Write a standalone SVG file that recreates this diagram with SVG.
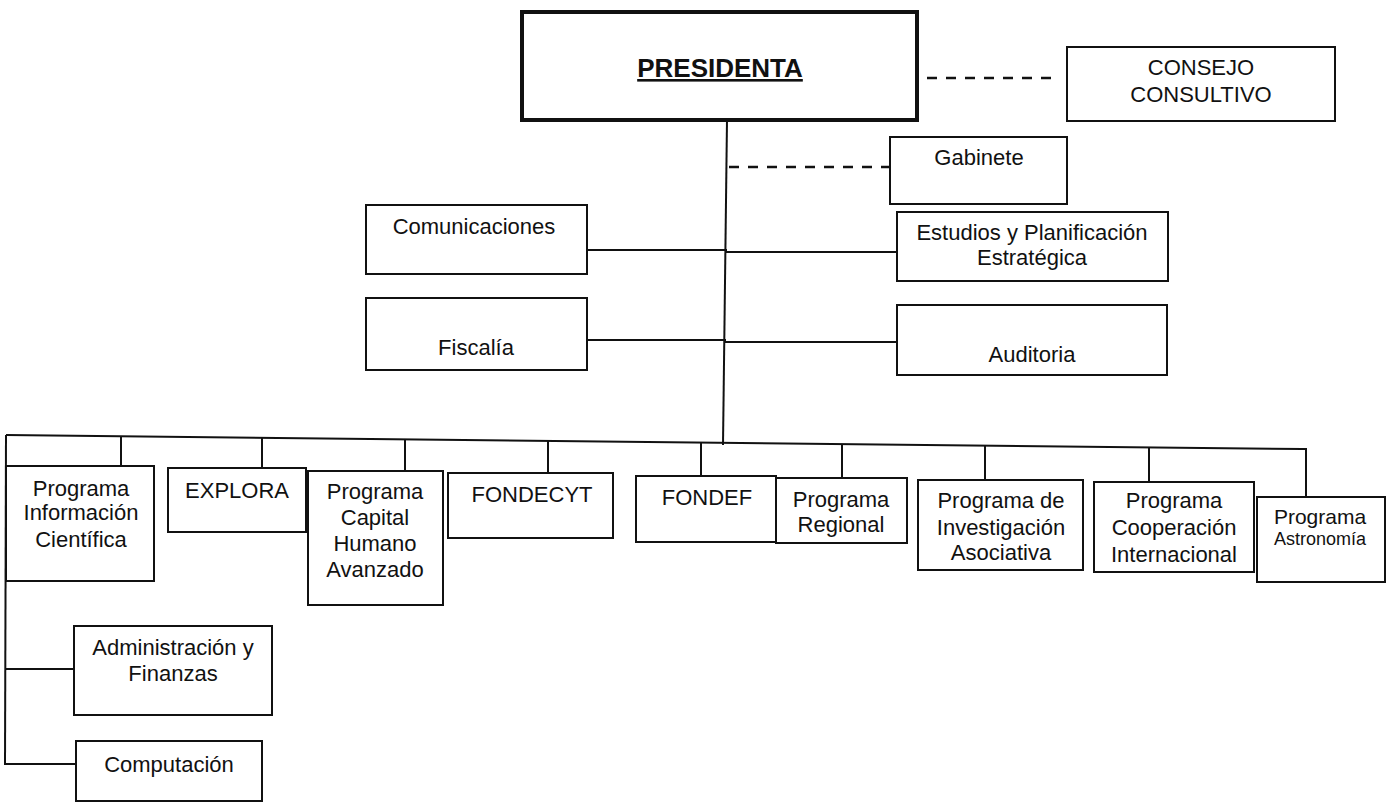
<svg xmlns="http://www.w3.org/2000/svg" width="1390" height="804" viewBox="0 0 1390 804">
<style>
.box{fill:#fff;stroke:#111;stroke-width:2}
.thick{fill:#fff;stroke:#111;stroke-width:4}
.t{font-family:"Liberation Sans",Arial,sans-serif;font-size:22px;fill:#111;text-anchor:middle}
.conn{fill:none;stroke:#111;stroke-width:2}
.dash{fill:none;stroke:#111;stroke-width:2.5;stroke-dasharray:10 9}
</style>
<rect width="1390" height="804" fill="#fff"/>
<g id="connectors">
<line class="conn" x1="727" y1="120" x2="723" y2="445"/>
<line class="dash" x1="927" y1="78" x2="1052" y2="78"/>
<line class="dash" x1="729" y1="167" x2="890" y2="167"/>
<line class="conn" x1="587" y1="250" x2="727" y2="250"/>
<line class="conn" x1="726" y1="252" x2="897" y2="252"/>
<line class="conn" x1="587" y1="340" x2="726" y2="340"/>
<line class="conn" x1="725" y1="342" x2="897" y2="342"/>
<polyline class="conn" points="6,435 1303,449 1306,449 1306,497"/>
<line class="conn" x1="6" y1="435" x2="5" y2="765"/>
<line class="conn" x1="5" y1="669" x2="74" y2="669"/>
<line class="conn" x1="5" y1="764" x2="76" y2="764"/>
<line class="conn" x1="121" y1="436" x2="121" y2="466"/>
<line class="conn" x1="262" y1="438" x2="262" y2="468"/>
<line class="conn" x1="405" y1="439" x2="405" y2="471"/>
<line class="conn" x1="548" y1="441" x2="548" y2="473"/>
<line class="conn" x1="701" y1="442" x2="701" y2="476"/>
<line class="conn" x1="842" y1="444" x2="842" y2="478"/>
<line class="conn" x1="985" y1="446" x2="985" y2="480"/>
<line class="conn" x1="1149" y1="447" x2="1149" y2="482"/>
</g>
<g id="presidenta">
<rect class="thick" x="522" y="12" width="395" height="108"/>
<text class="t" x="720" y="77" style="font-size:26px;font-weight:bold;text-decoration:underline">PRESIDENTA</text>
</g>
<g id="consejo">
<rect class="box" x="1067" y="47" width="268" height="74"/>
<text class="t" x="1201" y="75">CONSEJO</text>
<text class="t" x="1201" y="102">CONSULTIVO</text>
</g>
<g id="gabinete">
<rect class="box" x="890" y="137" width="177" height="67"/>
<text class="t" x="979" y="165">Gabinete</text>
</g>
<g id="comunicaciones">
<rect class="box" x="366" y="205" width="221" height="69"/>
<text class="t" x="474" y="234">Comunicaciones</text>
</g>
<g id="estudios">
<rect class="box" x="897" y="212" width="271" height="69"/>
<text class="t" x="1032" y="240">Estudios y Planificación</text>
<text class="t" x="1032" y="265">Estratégica</text>
</g>
<g id="fiscalia">
<rect class="box" x="366" y="298" width="221" height="72"/>
<text class="t" x="476" y="355">Fiscalía</text>
</g>
<g id="auditoria">
<rect class="box" x="897" y="305" width="270" height="70"/>
<text class="t" x="1032" y="362">Auditoria</text>
</g>
<g id="informacion-cientifica">
<rect class="box" x="6" y="466" width="148" height="115"/>
<text class="t" x="81" y="496">Programa</text>
<text class="t" x="81" y="520">Información</text>
<text class="t" x="81" y="547">Científica</text>
</g>
<g id="explora">
<rect class="box" x="168" y="468" width="138" height="64"/>
<text class="t" x="237" y="498">EXPLORA</text>
</g>
<g id="capital-humano">
<rect class="box" x="308" y="471" width="135" height="134"/>
<text class="t" x="375" y="499">Programa</text>
<text class="t" x="375" y="525">Capital</text>
<text class="t" x="375" y="551">Humano</text>
<text class="t" x="375" y="577">Avanzado</text>
</g>
<g id="fondecyt">
<rect class="box" x="448" y="473" width="165" height="65"/>
<text class="t" x="532" y="502">FONDECYT</text>
</g>
<g id="fondef">
<rect class="box" x="636" y="476" width="140" height="66"/>
<text class="t" x="707" y="505">FONDEF</text>
</g>
<g id="regional">
<rect class="box" x="776" y="478" width="131" height="65"/>
<text class="t" x="841" y="507">Programa</text>
<text class="t" x="841" y="532">Regional</text>
</g>
<g id="investigacion-asociativa">
<rect class="box" x="918" y="480" width="165" height="90"/>
<text class="t" x="1001" y="508">Programa de</text>
<text class="t" x="1001" y="535">Investigación</text>
<text class="t" x="1001" y="560">Asociativa</text>
</g>
<g id="cooperacion-internacional">
<rect class="box" x="1094" y="482" width="160" height="90"/>
<text class="t" x="1174" y="508">Programa</text>
<text class="t" x="1174" y="535">Cooperación</text>
<text class="t" x="1174" y="562">Internacional</text>
</g>
<g id="astronomia">
<rect class="box" x="1257" y="497" width="128" height="85"/>
<text class="t" x="1320" y="524" style="font-size:21px">Programa</text>
<text class="t" x="1320" y="545" style="font-size:18px">Astronomía</text>
</g>
<g id="administracion">
<rect class="box" x="74" y="626" width="198" height="89"/>
<text class="t" x="173" y="655">Administración y</text>
<text class="t" x="173" y="681">Finanzas</text>
</g>
<g id="computacion">
<rect class="box" x="76" y="741" width="186" height="60"/>
<text class="t" x="169" y="772">Computación</text>
</g>
</svg>
